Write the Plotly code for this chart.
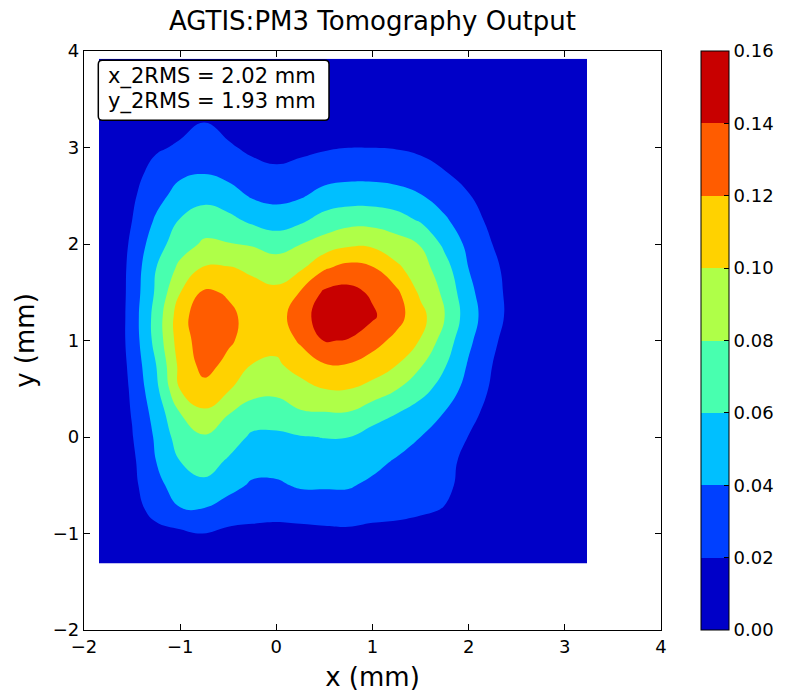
import plotly.graph_objects as go

# Reconstructed beam density on the measurement grid (mm)
x_mm = [-1.844, -1.65, -1.5, -1.25, -1.0, -0.75, -0.5, -0.25, 0.0, 0.25, 0.5,
        0.75, 1.0, 1.25, 1.5, 1.75, 2.0, 2.25, 2.5, 2.75, 3.0, 3.231]
y_mm = [-1.31, -1.0, -0.75, -0.5, -0.25, 0.0, 0.25, 0.5, 0.75, 1.0, 1.25,
        1.5, 1.75, 2.0, 2.25, 2.5, 2.75, 3.0, 3.25, 3.5, 3.92]

# one row per y_mm value, one column per x_mm value
density = [
    [0.002, 0.003, 0.005, 0.008, 0.009, 0.011, 0.009, 0.009, 0.009, 0.009, 0.009, 0.010, 0.009, 0.009, 0.008, 0.006, 0.004, 0.003, 0.002, 0.001, 0.001, 0.001],
    [0.003, 0.006, 0.008, 0.0135, 0.0158, 0.0203, 0.0153, 0.0156, 0.0145, 0.014, 0.0154, 0.0165, 0.0154, 0.0155, 0.014, 0.011, 0.007, 0.005, 0.003, 0.002, 0.001, 0.001],
    [0.003, 0.008, 0.012, 0.027, 0.039, 0.039, 0.032, 0.0266, 0.026, 0.029, 0.0297, 0.029, 0.0258, 0.0238, 0.022, 0.0195, 0.011, 0.006, 0.004, 0.002, 0.002, 0.001],
    [0.004, 0.010, 0.015, 0.034, 0.050, 0.056, 0.046, 0.0376, 0.0375, 0.042, 0.042, 0.042, 0.036, 0.0316, 0.0277, 0.0225, 0.016, 0.008, 0.004, 0.003, 0.002, 0.001],
    [0.004, 0.011, 0.016, 0.040, 0.060, 0.068, 0.058, 0.0475, 0.047, 0.0506, 0.051, 0.050, 0.046, 0.038, 0.0315, 0.0245, 0.016, 0.009, 0.005, 0.003, 0.002, 0.001],
    [0.004, 0.012, 0.019, 0.043, 0.070, 0.078, 0.069, 0.057, 0.056, 0.059, 0.0605, 0.0602, 0.053, 0.050, 0.040, 0.030, 0.0195, 0.011, 0.005, 0.003, 0.002, 0.001],
    [0.005, 0.011, 0.021, 0.048, 0.080, 0.097, 0.081, 0.070, 0.071, 0.078, 0.079, 0.079, 0.068, 0.0605, 0.050, 0.0395, 0.026, 0.013, 0.006, 0.003, 0.002, 0.001],
    [0.005, 0.0085, 0.0235, 0.055, 0.101, 0.114, 0.102, 0.088, 0.085, 0.093, 0.1002, 0.1005, 0.093, 0.081, 0.068, 0.051, 0.033, 0.017, 0.008, 0.003, 0.002, 0.001],
    [0.005, 0.0096, 0.026, 0.060, 0.106, 0.127, 0.115, 0.0995, 0.097, 0.108, 0.119, 0.119, 0.112, 0.1005, 0.082, 0.062, 0.038, 0.0198, 0.009, 0.004, 0.002, 0.001],
    [0.005, 0.0109, 0.028, 0.067, 0.111, 0.130, 0.123, 0.112, 0.106, 0.123, 0.141, 0.139, 0.127, 0.115, 0.099, 0.071, 0.044, 0.023, 0.010, 0.004, 0.002, 0.001],
    [0.005, 0.0097, 0.029, 0.068, 0.112, 0.134, 0.124, 0.114, 0.108, 0.135, 0.146, 0.152, 0.143, 0.127, 0.107, 0.080, 0.049, 0.027, 0.012, 0.005, 0.002, 0.001],
    [0.005, 0.0095, 0.028, 0.063, 0.0995, 0.123, 0.118, 0.106, 0.104, 0.121, 0.143, 0.146, 0.137, 0.124, 0.096, 0.076, 0.045, 0.026, 0.012, 0.005, 0.002, 0.001],
    [0.005, 0.0095, 0.027, 0.0599, 0.085, 0.102, 0.1015, 0.097, 0.091, 0.097, 0.118, 0.127, 0.122, 0.104, 0.089, 0.068, 0.0398, 0.024, 0.011, 0.005, 0.002, 0.001],
    [0.005, 0.0079, 0.0244, 0.0516, 0.071, 0.083, 0.081, 0.078, 0.072, 0.0795, 0.088, 0.096, 0.096, 0.088, 0.079, 0.0555, 0.035, 0.0198, 0.010, 0.004, 0.002, 0.001],
    [0.005, 0.009, 0.0199, 0.0427, 0.061, 0.0697, 0.0653, 0.0556, 0.050, 0.056, 0.0675, 0.0727, 0.0727, 0.068, 0.0576, 0.0427, 0.028, 0.015, 0.008, 0.004, 0.002, 0.001],
    [0.004, 0.008, 0.017, 0.033, 0.048, 0.054, 0.048, 0.0378, 0.0344, 0.0377, 0.0467, 0.050, 0.050, 0.0467, 0.041, 0.031, 0.021, 0.011, 0.006, 0.003, 0.002, 0.001],
    [0.003, 0.006, 0.013, 0.0263, 0.0358, 0.0385, 0.034, 0.0264, 0.0228, 0.026, 0.0308, 0.0328, 0.0328, 0.0315, 0.0279, 0.0205, 0.013, 0.007, 0.004, 0.002, 0.001, 0.001],
    [0.002, 0.004, 0.008, 0.0175, 0.0225, 0.0295, 0.0225, 0.016, 0.0135, 0.0155, 0.018, 0.0198, 0.0198, 0.019, 0.016, 0.012, 0.008, 0.005, 0.003, 0.002, 0.001, 0.001],
    [0.001, 0.003, 0.005, 0.010, 0.015, 0.0203, 0.014, 0.010, 0.008, 0.009, 0.010, 0.011, 0.011, 0.010, 0.009, 0.007, 0.005, 0.003, 0.002, 0.001, 0.001, 0.001],
    [0.001, 0.002, 0.003, 0.006, 0.009, 0.012, 0.009, 0.006, 0.005, 0.005, 0.006, 0.006, 0.006, 0.006, 0.005, 0.004, 0.003, 0.002, 0.001, 0.001, 0.001, 0.0005],
    [0.0005, 0.001, 0.001, 0.002, 0.003, 0.004, 0.003, 0.002, 0.002, 0.002, 0.002, 0.002, 0.002, 0.002, 0.002, 0.001, 0.001, 0.001, 0.0005, 0.0005, 0.0005, 0.0002],
]

level_ticks = [0.00, 0.02, 0.04, 0.06, 0.08, 0.10, 0.12, 0.14, 0.16]
level_labels = ["0.00", "0.02", "0.04", "0.06", "0.08", "0.10", "0.12", "0.14", "0.16"]
axis_ticks = [-2, -1, 0, 1, 2, 3, 4]
axis_labels = ["\u22122", "\u22121", "0", "1", "2", "3", "4"]

x_rms = 2.02
y_rms = 1.93

# jet colours sampled at the middle of each contour band
band_colors = ["#0000c8", "#0040ff", "#00bfff", "#48ffaf",
               "#afff48", "#ffd200", "#ff5c00", "#c80000"]
n = len(band_colors)
step_scale = []
for i, c in enumerate(band_colors):
    step_scale.append([i / n, c])
    step_scale.append([(i + 1) / n, c])

FONT = "DejaVu Sans"

fig = go.Figure()
fig.add_trace(go.Contour(
    x=x_mm, y=y_mm, z=density,
    zmin=0.0, zmax=0.16,
    autocontour=False,
    contours=dict(start=0.02, end=0.14, size=0.02, coloring="fill", showlines=False),
    line=dict(width=0, smoothing=1.3),
    colorscale=step_scale,
    hoverinfo="skip",
    colorbar=dict(
        x=(701 - 84) / 577, xanchor="left", xpad=0,
        y=0.5, yanchor="middle", ypad=0,
        len=1.0, lenmode="fraction",
        thickness=28,
        outlinewidth=1, outlinecolor="black",
        tickvals=level_ticks, ticktext=level_labels,
        ticks="inside", ticklen=5, tickcolor="black",
        tickfont=dict(family=FONT, size=18, color="black"),
    ),
))

axis_common = dict(
    range=[-2, 4], tickvals=axis_ticks, ticktext=axis_labels,
    ticks="inside", ticklen=6, tickwidth=1, tickcolor="black",
    showline=True, linecolor="black", linewidth=1.2, mirror="ticks",
    showgrid=False, zeroline=False,
    tickfont=dict(family=FONT, size=18, color="black"),
)

fig.update_layout(
    width=785, height=692, autosize=False,
    margin=dict(l=84, r=124, t=51, b=62, pad=0, autoexpand=False),
    paper_bgcolor="white", plot_bgcolor="white",
    title=dict(text="AGTIS:PM3 Tomography Output", x=0.5, xref="paper",
               y=1 - 21 / 692, yref="container", xanchor="center", yanchor="middle",
               font=dict(family=FONT, size=26, color="black")),
    xaxis=dict(**axis_common,
               title=dict(text="x (mm)", standoff=12,
                          font=dict(family=FONT, size=26, color="black"))),
    yaxis=dict(**axis_common,
               title=dict(text="y (mm)", standoff=10,
                          font=dict(family=FONT, size=26, color="black"))),
    showlegend=False,
)

# rounded white box holding the RMS sizes
x0, x1 = (98.3 - 84) / 577, (329 - 84) / 577
y0, y1 = (630 - 120.3) / 579, (630 - 60.3) / 579
rx, ry = 4 / 577, 4 / 579
box_path = (
    f"M {x0 + rx},{y1} L {x1 - rx},{y1} Q {x1},{y1} {x1},{y1 - ry} "
    f"L {x1},{y0 + ry} Q {x1},{y0} {x1 - rx},{y0} "
    f"L {x0 + rx},{y0} Q {x0},{y0} {x0},{y0 + ry} "
    f"L {x0},{y1 - ry} Q {x0},{y1} {x0 + rx},{y1} Z"
)
fig.add_shape(type="path", path=box_path, xref="paper", yref="paper",
              fillcolor="white", line=dict(color="black", width=1.5), layer="above")

for text, ypix in [(f"x_2RMS = {x_rms:.2f} mm", 77), (f"y_2RMS = {y_rms:.2f} mm", 101)]:
    fig.add_annotation(text=text, xref="paper", yref="paper",
                       x=(106 - 84) / 577, y=(630 - ypix) / 579,
                       xanchor="left", yanchor="middle", showarrow=False,
                       font=dict(family=FONT, size=21, color="black"))

fig.write_html("out.html")
